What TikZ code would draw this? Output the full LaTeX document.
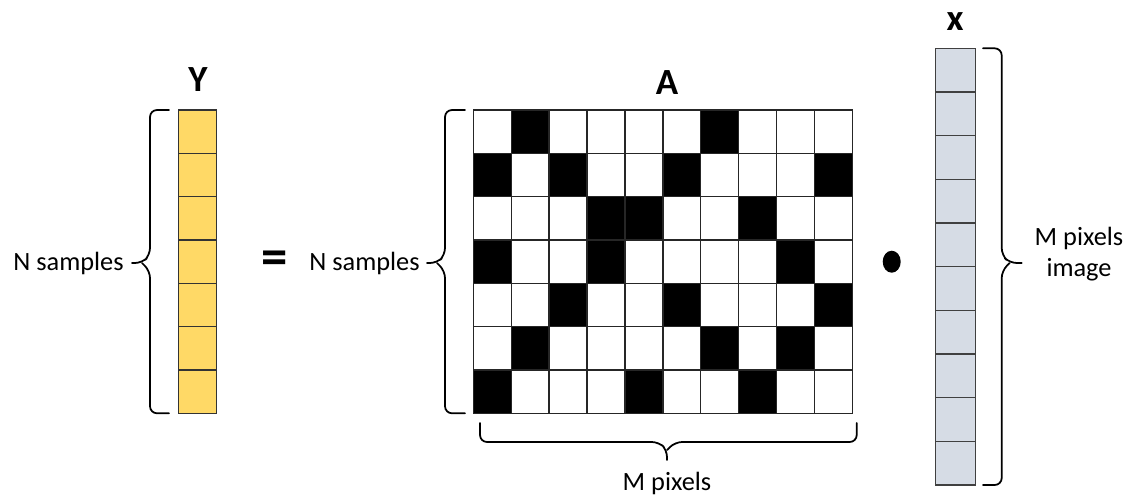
\documentclass[tikz,border=0pt]{standalone}
\usepackage{fontspec}
\setmainfont{Carlito}
\usepackage{xcolor}
\usetikzlibrary{calc, positioning}
\definecolor{ycol}{HTML}{FFD966}
\definecolor{xcol}{HTML}{D6DCE5}
\tikzset{
  ycell/.style={
    draw=black!80, line width=0.8pt, fill=ycol,
    minimum width=0.768cm, minimum height=0.867cm, inner sep=0pt, outer sep=0pt
  },
  xcell/.style={
    draw=black!75, line width=0.8pt, fill=xcol,
    minimum width=0.8cm, minimum height=0.873cm, inner sep=0pt, outer sep=0pt
  },
  acell/.style={
    draw=black!85, line width=0.8pt,
    minimum width=0.758cm, minimum height=0.867cm, inner sep=0pt, outer sep=0pt
  },
  pix0/.style={fill=white},
  pix1/.style={fill=black},
  bracepath/.style={line width=1pt, rounded corners=4pt, line cap=round},
  plainlabel/.style={font=\fontsize{15}{18}\selectfont, inner sep=0pt},
  veclabel/.style={font=\fontsize{21}{24}\selectfont\bfseries, inner sep=0pt},
}

\begin{document}
\begin{tikzpicture}[x=0.02cm, y=0.02cm]
  \useasboundingbox (0,0) rectangle (1131,495);

  % ---- Y: measurements ----
  \foreach \r in {1,...,7}
    \node[ycell] (y\r) at (197.5, {385-43.33*(\r-0.5)}) {};
  \node[veclabel] (lblY) at (198, 415) {Y};
  \draw[bracepath] (169,385) -- (150,385) -- (150,240) -- (142,232) -- (132,232);
  \draw[bracepath] (169,81.7) -- (150,81.7) -- (150,224) -- (142,232);
  \node[plainlabel, anchor=east] (nsY) at (124, 232) {N samples};

  % equals sign
  \node[font=\fontsize{30}{30}\selectfont\bfseries, inner sep=0pt] (eq) at (275, 232) {=};

  % ---- A: sensing matrix ----
  \foreach \row [count=\r] in {
      {0,1,0,0,0,0,1,0,0,0},
      {1,0,1,0,0,1,0,0,0,1},
      {0,0,0,1,1,0,0,1,0,0},
      {1,0,0,1,0,0,0,0,1,0},
      {0,0,1,0,0,1,0,0,0,1},
      {0,1,0,0,0,0,1,0,1,0},
      {1,0,0,0,1,0,0,1,0,0}}
    \foreach \v [count=\c] in \row
      \node[acell, pix\v] (a-\r-\c) at ({473.3+37.9*(\c-0.5)}, {385-43.33*(\r-0.5)}) {};
  \node[veclabel] (lblA) at (667, 412) {A};
  \draw[bracepath] (465,385) -- (445,385) -- (445,240) -- (437,232) -- (427,232);
  \draw[bracepath] (465,81.7) -- (445,81.7) -- (445,224) -- (437,232);
  \node[plainlabel, anchor=east] (nsA) at (420, 232) {N samples};

  % brace under A
  \draw[bracepath] (480,72) -- (480,53) -- (659,53) -- (667,45) -- (667,35);
  \draw[bracepath] (856.7,72) -- (856.7,53) -- (675,53) -- (667,45);
  \node[plainlabel] (mpix) at (667, 12) {M pixels};

  % product dot
  \fill (891.7, 233.3) ellipse (9 and 11);

  % ---- x: image ----
  \foreach \r in {1,...,10}
    \node[xcell] (x\r) at (955.7, {446.7-43.67*(\r-0.5)}) {};
  \node[veclabel] (lblx) at (955, 473) {x};
  \draw[bracepath] (983,446.7) -- (1001.7,446.7) -- (1001.7,240) -- (1009.7,232) -- (1021.7,232);
  \draw[bracepath] (983,10) -- (1001.7,10) -- (1001.7,224) -- (1009.7,232);
  \node[plainlabel, align=center] (mimg) at (1079, 241) {M pixels\\image};
\end{tikzpicture}
\end{document}
